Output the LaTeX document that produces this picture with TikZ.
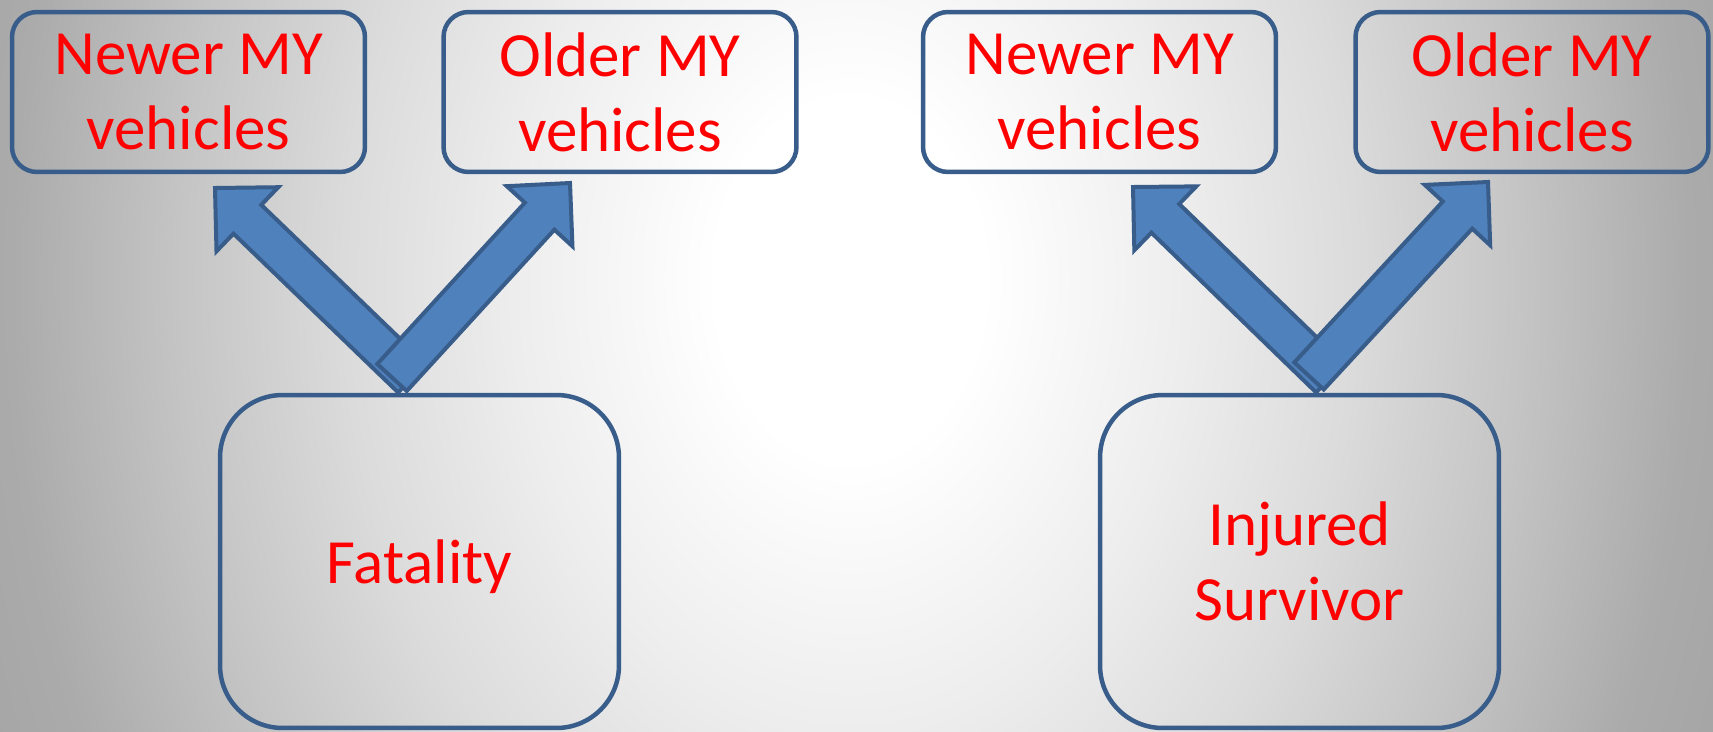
\documentclass[tikz,border=0pt]{standalone}
\usepackage{fontspec}
\setmainfont{Carlito}
\usetikzlibrary{calc}
\definecolor{bordblue}{RGB}{56,93,138}
\definecolor{fillblue}{RGB}{79,129,189}
\definecolor{txtred}{RGB}{255,0,0}
\pgfdeclareradialshading{bgshade}{\pgfpoint{0bp}{0bp}}{color(0bp)=(white); color(8bp)=(white); color(20bp)=(black!7); color(30bp)=(black!14); color(40bp)=(black!23); color(50bp)=(black!33); color(60bp)=(black!37)}
\newcommand\blkarrow[2]{%
  \coordinate (#1n) at ($(#2)!0.9cm!(#1)$);
  \draw[arrowstyle] ($(#1)!0.4cm!90:(#2)$) -- ($(#1n)!0.4cm!90:(#2)$) -- ($(#1n)!0.89cm!90:(#2)$) -- (#2) -- ($(#1n)!0.89cm!-90:(#2)$) -- ($(#1n)!0.4cm!-90:(#2)$) -- ($(#1)!0.4cm!-90:(#2)$) -- cycle;}
\tikzset{
  labeltext/.style={text=txtred, font=\fontsize{35.85pt}{42.7pt}\selectfont, align=center, inner sep=0pt},
  topbox/.style={labeltext, draw=bordblue, line width=0.09cm, rounded corners=0.5cm, minimum width=7.06cm, minimum height=3.2cm},
  bigbox/.style={labeltext, draw=bordblue, line width=0.09cm, rounded corners=1.25cm, minimum width=7.98cm, minimum height=6.66cm},
  arrowstyle/.style={draw=bordblue, fill=fillblue, line width=0.08cm, line join=miter}
}
\begin{document}
\begin{tikzpicture}[x=0.02cm, y=-0.02cm]
\useasboundingbox (0,0) rectangle (1713,731);
\begin{scope}
  \clip (0,0) rectangle (1713,731);
  \node[inner sep=0pt, outer sep=0pt, xscale=9.525, yscale=12.76] (bg) at (850,280) {\pgfuseshading{bgshade}};
\end{scope}
\node[topbox] (newL) at (188.5,92) {Newer MY\\vehicles};
\node[topbox] (oldL) at (620,92) {Older MY\\vehicles};
\node[topbox] (newR) at (1099.5,92) {Newer MY\\vehicles};
\node[topbox] (oldR) at (1532,92) {Older MY\\vehicles};
\node[bigbox, text depth=0pt] (fat) at (419.5,561.5) {Fatality};
\node[bigbox] (inj) at (1299.5,561.5) {Injured\\Survivor};
\coordinate (aLt) at (412,378);
\coordinate (aLp) at (215,188);
\coordinate (aRt) at (392,377.5);
\coordinate (aRp) at (570,183);
\coordinate (bLt) at (1330,378);
\coordinate (bLp) at (1133,187);
\coordinate (bRt) at (1309,376);
\coordinate (bRp) at (1488,182);
\blkarrow{aLt}{aLp}
\blkarrow{aRt}{aRp}
\blkarrow{bLt}{bLp}
\blkarrow{bRt}{bRp}
\end{tikzpicture}
\end{document}
